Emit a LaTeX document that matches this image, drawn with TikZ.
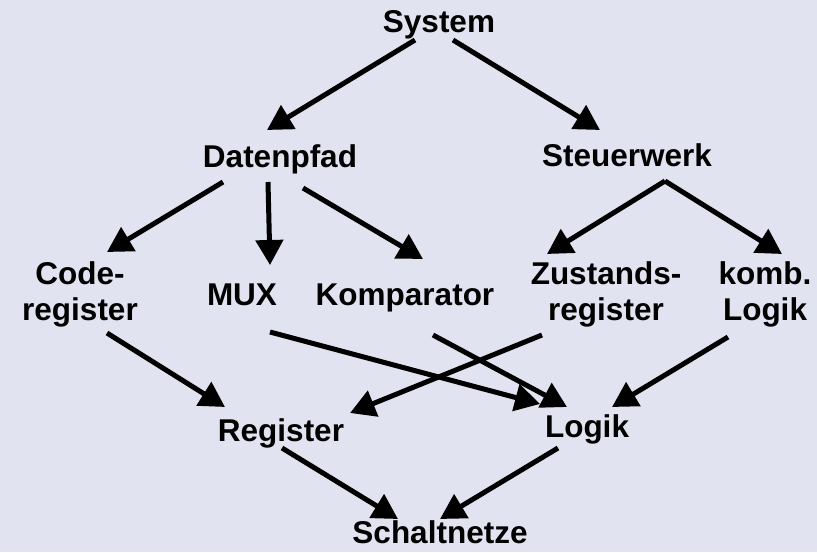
\documentclass[tikz,border=0pt]{standalone}
\usepackage{fontspec}
\setmainfont{Liberation Sans}
\usetikzlibrary{arrows.meta,calc}
\definecolor{bgpanel}{RGB}{225,228,240}
\begin{document}
\begin{tikzpicture}[x=1pt,y=-1pt,
  lbl/.style={inner sep=0pt,font=\fontsize{31.5}{36}\selectfont\bfseries,align=center},
  arr/.style={line width=5pt,-{Triangle[length=25pt,width=27pt]}}]
  % background panel
  \fill[bgpanel] (0,0) rectangle (817,552);
  \useasboundingbox (0,0) rectangle (817,552);

  % single-line labels, placed by baseline
  \node[lbl,anchor=base] (sys)  at (439,32)  {System};
  \node[lbl,anchor=base] (dp)   at (280,167) {Datenpfad};
  \node[lbl,anchor=base] (sw)   at (627,166) {Steuerwerk};
  \node[lbl,anchor=base] (mux)  at (242,305) {MUX};
  \node[lbl,anchor=base] (komp) at (405,305) {Komparator};
  \node[lbl,anchor=base] (reg)  at (281,441) {Register};
  \node[lbl,anchor=base] (log)  at (587,437) {Logik};
  \node[lbl,anchor=base] (sn)   at (440,543) {Schaltnetze};
  % two-line labels, placed by centre
  \node[lbl] (code) at (80,294)  {Code-\\register};
  \node[lbl] (zus)  at (606,294) {Zustands-\\register};
  \node[lbl] (komb) at (765,294) {komb.\\Logik};

  % hierarchy arrows
  \draw[arr] ($(sys.base)+(-24,8)$)  -- ($(dp.base)+(-13,-37)$);
  \draw[arr] ($(sys.base)+(14,8)$)   -- ($(sw.base)+(-27,-36)$);
  \draw[arr] ($(dp.base)+(-57,15)$)  -- ($(code)+(27,-42)$);
  \draw[arr] ($(dp.base)+(-12,15)$)  -- ($(mux.base)+(28,-40)$);
  \draw[arr] ($(dp.base)+(23,21)$)   -- ($(komp.base)+(18,-46)$);
  \draw[arr] ($(sw.base)+(38,15)$)   -- ($(zus)+(-59,-40)$);
  \draw[arr] ($(sw.base)+(38,15)$)   -- ($(komb)+(17,-40)$);
  \draw[arr] ($(code)+(27,39)$)      -- ($(reg.base)+(-56,-34)$);
  \draw[arr] ($(mux.base)+(28,27)$)  -- ($(log.base)+(-47,-33)$);
  \draw[arr] ($(komp.base)+(28,30)$) -- ($(log.base)+(-20,-30)$);
  \draw[arr] ($(zus)+(-64,41)$)      -- ($(reg.base)+(69,-28)$);
  \draw[arr] ($(komb)+(-37,43)$)     -- ($(log.base)+(25,-30)$);
  \draw[arr] ($(reg.base)+(1,7)$)    -- ($(sn.base)+(-42,-24)$);
  \draw[arr] ($(log.base)+(-29,11)$) -- ($(sn.base)+(0,-24)$);
\end{tikzpicture}
\end{document}
